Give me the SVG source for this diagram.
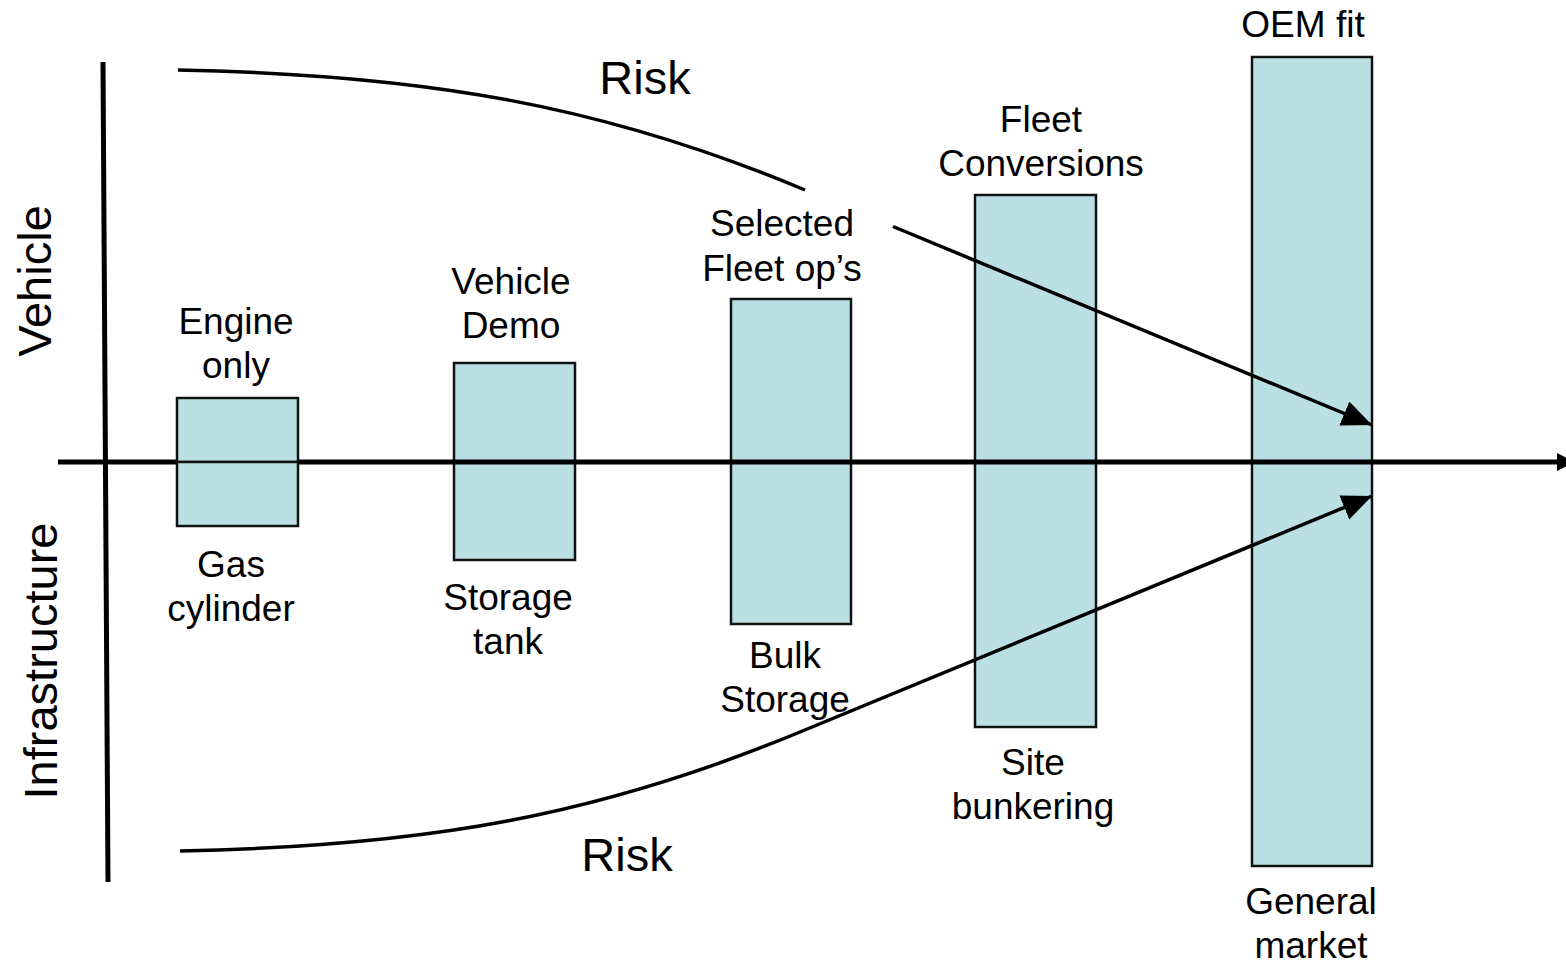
<svg xmlns="http://www.w3.org/2000/svg" width="1566" height="964" viewBox="0 0 1566 964">
<style>
.box{fill:#BAE0E3;stroke:#111;stroke-width:2.5}
.lbl{font-family:"Liberation Sans",Arial,sans-serif;font-size:37px;fill:#000;text-anchor:middle}
.big{font-family:"Liberation Sans",Arial,sans-serif;font-size:47px;fill:#000;text-anchor:middle}
.ax{stroke:#000;stroke-width:5;fill:none}
.cv{stroke:#000;stroke-width:3.5;fill:none}
</style>
<defs>
<marker id="ah" markerUnits="userSpaceOnUse" markerWidth="32" markerHeight="28" refX="30" refY="13" orient="auto" viewBox="0 0 32 28">
<path d="M0,0 L30,13 L0,26 z" fill="#000"/>
</marker>
<marker id="axh" markerUnits="userSpaceOnUse" markerWidth="20" markerHeight="20" refX="0" refY="9" orient="auto" viewBox="0 0 20 20">
<path d="M0,0 L18,9 L0,18 z" fill="#000"/>
</marker>
</defs>
<rect width="1566" height="964" fill="#fff"/>
<g id="node-fleet">
<rect class="box" x="975" y="195" width="121" height="532"/>
<text class="lbl" x="1041" y="132">Fleet</text>
<text class="lbl" x="1041" y="176">Conversions</text>
<text class="lbl" x="1033" y="775">Site</text>
<text class="lbl" x="1033" y="819">bunkering</text>
</g>
<g id="node-oem">
<rect class="box" x="1252" y="57" width="120" height="809"/>
<text class="lbl" x="1303" y="37">OEM fit</text>
<text class="lbl" x="1311" y="914">General</text>
<text class="lbl" x="1311" y="958">market</text>
</g>
<g id="node-selected">
<rect class="box" x="731" y="299" width="120" height="325"/>
<text class="lbl" x="782" y="236">Selected</text>
<text class="lbl" x="782" y="281">Fleet op’s</text>
<text class="lbl" x="785" y="668">Bulk</text>
<text class="lbl" x="785" y="712">Storage</text>
</g>
<g id="node-demo">
<rect class="box" x="454" y="363" width="121" height="197"/>
<text class="lbl" x="511" y="294">Vehicle</text>
<text class="lbl" x="511" y="338">Demo</text>
<text class="lbl" x="508" y="610">Storage</text>
<text class="lbl" x="508" y="654">tank</text>
</g>
<g id="connectors">
<path class="ax" d="M58,462 L1557,462" marker-end="url(#axh)"/>
<path class="ax" d="M103,62 L108,882"/>
<path class="cv" d="M178,70 C428,75 605,106 805,190"/>
<path class="cv" d="M893,226.5 L1372,425" marker-end="url(#ah)"/>
<path class="cv" d="M180,851 C430,846 600,815 800,732 L1372,496" marker-end="url(#ah)"/>
</g>
<g id="node-engine">
<rect class="box" x="177" y="398" width="121" height="64"/>
<rect class="box" x="177" y="462" width="121" height="64"/>
<text class="lbl" x="236" y="334">Engine</text>
<text class="lbl" x="236" y="378">only</text>
<text class="lbl" x="231" y="577">Gas</text>
<text class="lbl" x="231" y="621">cylinder</text>
</g>
<g id="labels">
<text class="big" x="645" y="94">Risk</text>
<text class="big" x="627" y="871">Risk</text>
<text class="big" transform="translate(51,281) rotate(-90)">Vehicle</text>
<text class="big" transform="translate(57,661) rotate(-90)">Infrastructure</text>
</g>
</svg>
